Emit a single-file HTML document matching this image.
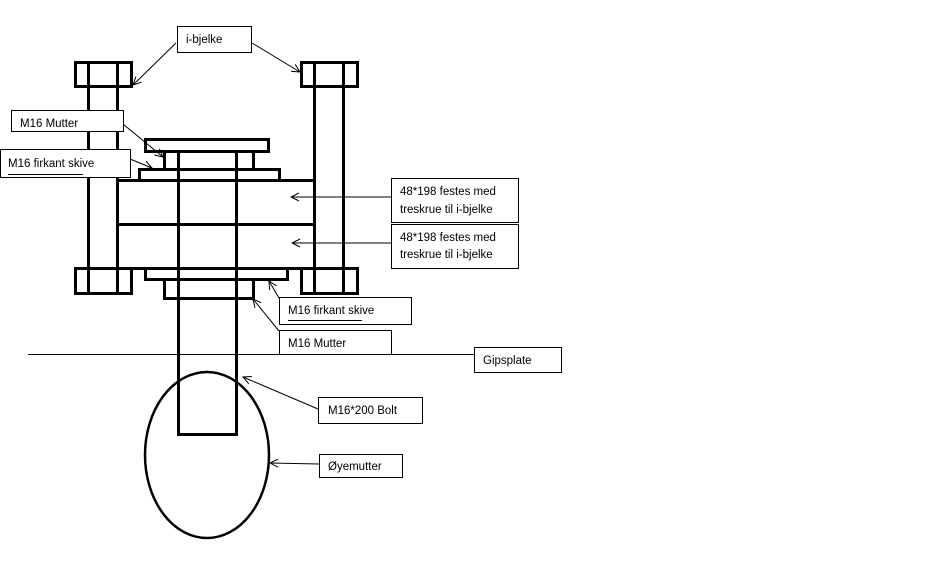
<!DOCTYPE html>
<html><head><meta charset="utf-8"><style>
html,body{margin:0;padding:0;background:#fff;}
svg{display:block;}
text{font-family:"Liberation Sans",sans-serif;font-size:11.5px;fill:#000;}
</style></head><body>
<svg width="925" height="579" viewBox="0 0 925 579" xmlns="http://www.w3.org/2000/svg">
<defs>
<marker id="a" markerWidth="10" markerHeight="10" refX="9" refY="5" orient="auto" markerUnits="userSpaceOnUse">
<path d="M1,1 L9,5 L1,9" fill="none" stroke="#000" stroke-width="1"/></marker>
</defs>
<g fill="none" stroke="#000" stroke-width="3">
<!-- left I-beam -->
<rect x="75.5" y="62.5" width="56" height="24"/>
<line x1="88.5" y1="62" x2="88.5" y2="294"/>
<line x1="117.5" y1="62" x2="117.5" y2="294"/>
<rect x="75.5" y="268.5" width="56" height="25"/>
<!-- right I-beam -->
<rect x="301.5" y="62.5" width="56" height="24"/>
<line x1="314.5" y1="62" x2="314.5" y2="294"/>
<line x1="343.5" y1="62" x2="343.5" y2="294"/>
<rect x="301.5" y="268.5" width="56" height="25"/>
<!-- wood -->
<rect x="117.5" y="180.5" width="197" height="88"/>
<line x1="117" y1="224.5" x2="315" y2="224.5"/>
<!-- top parts -->
<rect x="145.5" y="139.5" width="123" height="12"/>
<rect x="164.5" y="151.5" width="89" height="18"/>
<rect x="139.5" y="169.5" width="140" height="11"/>
<!-- bottom parts -->
<rect x="145.5" y="268.5" width="142" height="11"/>
<rect x="164.5" y="279.5" width="89" height="19"/>
<!-- bolt -->
<path d="M178.5,151 V434.5 H236.5 V151"/>
</g>
<ellipse cx="207" cy="455" rx="62" ry="83" fill="none" stroke="#000" stroke-width="2.5"/>
<line x1="28" y1="354.5" x2="475" y2="354.5" stroke="#000" stroke-width="1"/>
<g stroke="#000" stroke-width="1" fill="none" marker-end="url(#a)">
<line x1="176" y1="43" x2="133" y2="85"/>
<line x1="252" y1="43" x2="300" y2="72"/>
<line x1="123" y1="124" x2="163" y2="157"/>
<line x1="130" y1="159" x2="152" y2="168"/>
<line x1="391" y1="197" x2="291" y2="197"/>
<line x1="391" y1="243" x2="292" y2="243"/>
<line x1="279" y1="298" x2="269" y2="281"/>
<line x1="279" y1="331" x2="253" y2="299"/>
<line x1="318" y1="409" x2="243" y2="377"/>
<line x1="319" y1="464" x2="270" y2="463"/>
</g>
<g fill="#fff" stroke="#000" stroke-width="1">
<rect x="177.5" y="26.5" width="74" height="26"/>
<rect x="11.5" y="110.5" width="112" height="21"/>
<rect x="0.5" y="149.5" width="130" height="28"/>
<rect x="391.5" y="178.5" width="127" height="44"/>
<rect x="391.5" y="224.5" width="127" height="44"/>
<rect x="279.5" y="297.5" width="132" height="27"/>
<rect x="279.5" y="330.5" width="112" height="24"/>
<rect x="474.5" y="347.5" width="87" height="25"/>
<rect x="318.5" y="397.5" width="104" height="26"/>
<rect x="319.5" y="454.5" width="83" height="23"/>
</g>
<text x="186" y="43">i-bjelke</text>
<text x="20" y="127">M16 Mutter</text>
<text x="8" y="167">M16 firkant skive</text>
<line x1="8" y1="174.5" x2="83" y2="174.5" stroke="#000" stroke-width="1"/>
<text x="400" y="195">48*198 festes med</text>
<text x="400" y="213">treskrue til i-bjelke</text>
<text x="400" y="241">48*198 festes med</text>
<text x="400" y="258">treskrue til i-bjelke</text>
<text x="288" y="314">M16 firkant skive</text>
<line x1="288" y1="320.5" x2="362" y2="320.5" stroke="#000" stroke-width="1"/>
<text x="288" y="347">M16 Mutter</text>
<text x="483" y="364">Gipsplate</text>
<text x="328" y="414">M16*200 Bolt</text>
<text x="328" y="470">Øyemutter</text>
</svg>
</body></html>
